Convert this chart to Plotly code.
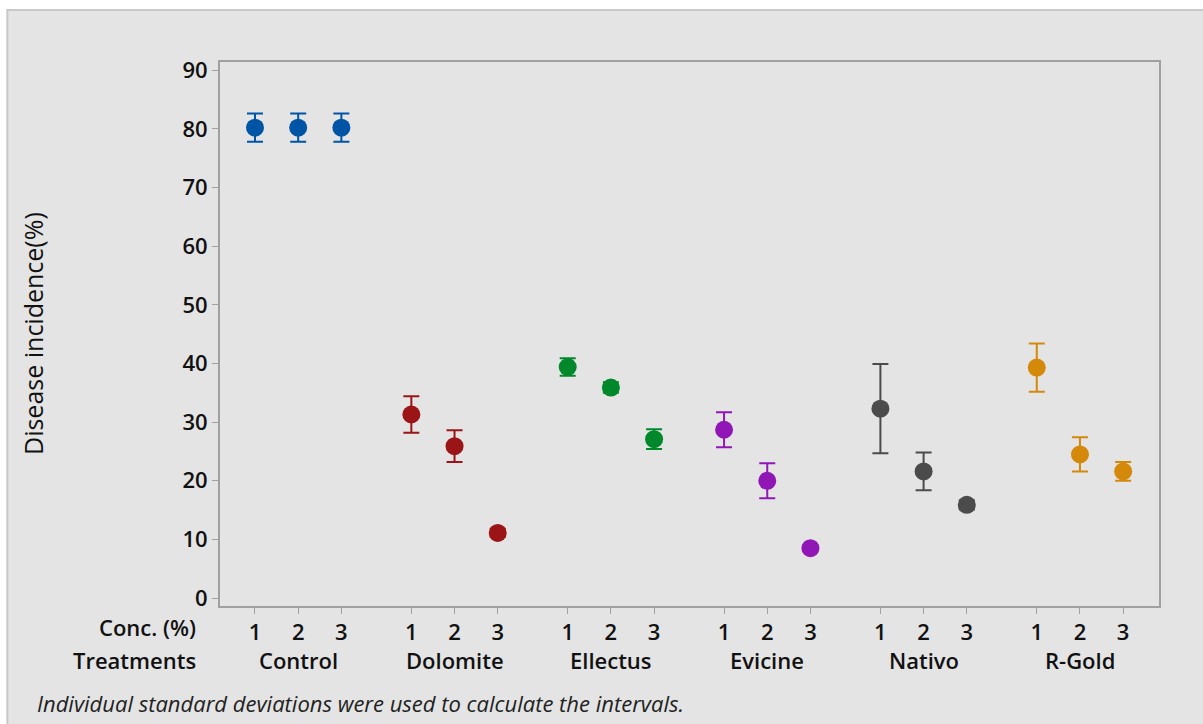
import plotly.graph_objects as go

treatments = ["Control", "Dolomite", "Ellectus", "Evicine", "Nativo", "R-Gold"]
concs = ["1", "2", "3"]
means = {
    "Control":  [80.2, 80.2, 80.2],
    "Dolomite": [31.3, 25.9, 11.1],
    "Ellectus": [39.4, 35.9, 27.1],
    "Evicine":  [28.7, 20.0, 8.5],
    "Nativo":   [32.3, 21.6, 15.9],
    "R-Gold":   [39.3, 24.5, 21.6],
}
errs = {
    "Control":  [2.4, 2.4, 2.4],
    "Dolomite": [3.1, 2.7, 0.7],
    "Ellectus": [1.5, 0.9, 1.7],
    "Evicine":  [3.0, 3.0, 0.3],
    "Nativo":   [7.6, 3.2, 0.8],
    "R-Gold":   [4.1, 2.9, 1.6],
}
colors = {
    "Control": "#0054A6",
    "Dolomite": "#9B1416",
    "Ellectus": "#00882B",
    "Evicine": "#9016B6",
    "Nativo": "#4B4B4B",
    "R-Gold": "#D4890A",
}
y_ticks = [0, 10, 20, 30, 40, 50, 60, 70, 80, 90]
footnote = "Individual standard deviations were used to calculate the intervals."

GROUP_STEP = 3.62
FONT = "Open Sans"
LBL = dict(family=FONT, size=22, color="#111", weight=600)

fig = go.Figure()
tickvals, ticktext = [], []
for g, t in enumerate(treatments):
    xs = [g * GROUP_STEP + i for i in range(len(concs))]
    tickvals += xs
    ticktext += concs
    fig.add_trace(go.Scatter(
        x=xs, y=means[t], mode="markers", name=t, showlegend=False,
        marker=dict(size=18, color=colors[t]),
        error_y=dict(type="data", array=errs[t], visible=True,
                     color=colors[t], thickness=2, width=8),
    ))
    fig.add_annotation(x=g * GROUP_STEP + 1, y=0, xref="x", yref="paper",
                       text=t, showarrow=False, yanchor="middle", yshift=-54,
                       font=LBL)

# panel background
fig.add_shape(type="rect", xref="paper", yref="paper", layer="below",
              x0=-0.2265, x1=1.1, y0=-0.35, y1=1.0955,
              fillcolor="#E4E4E4", line=dict(color="#C8C8C8", width=2))

fig.add_annotation(x=0, y=0, xref="paper", yref="paper", text="Conc. (%)",
                   showarrow=False, xanchor="right", yanchor="middle",
                   xshift=-22, yshift=-21, font=LBL)
fig.add_annotation(x=0, y=0, xref="paper", yref="paper", text="Treatments",
                   showarrow=False, xanchor="right", yanchor="middle",
                   xshift=-22, yshift=-54, font=LBL)
fig.add_annotation(x=0, y=0.5, xref="paper", yref="paper",
                   text="Disease incidence(%)", textangle=-90,
                   showarrow=False, xanchor="center", yanchor="middle",
                   xshift=-187,
                   font=dict(family=FONT, size=25, color="#111"))
fig.add_annotation(x=0, y=0, xref="paper", yref="paper", text=footnote,
                   showarrow=False, xanchor="left", yanchor="middle",
                   xshift=-185, yshift=-97,
                   font=dict(family=FONT, size=22, color="#222", style="italic"))

fig.update_layout(
    width=1203, height=724,
    margin=dict(l=220, r=44, t=62, b=118),
    paper_bgcolor="white", plot_bgcolor="white",
    xaxis=dict(range=[-0.81, 20.93], tickvals=tickvals, ticktext=ticktext,
               showgrid=False, zeroline=False, showline=True, mirror=True,
               linecolor="#A0A0A0", linewidth=2, ticks="outside",
               ticklen=6, tickcolor="#A0A0A0", tickwidth=1,
               tickfont=LBL),
    yaxis=dict(range=[-1.35, 91.4], tickvals=y_ticks,
               showgrid=False, zeroline=False, showline=True, mirror=True,
               linecolor="#A0A0A0", linewidth=2, ticks="outside",
               ticklen=6, tickcolor="#A0A0A0", tickwidth=1,
               tickfont=LBL),
)

fig.write_html("out.html")
